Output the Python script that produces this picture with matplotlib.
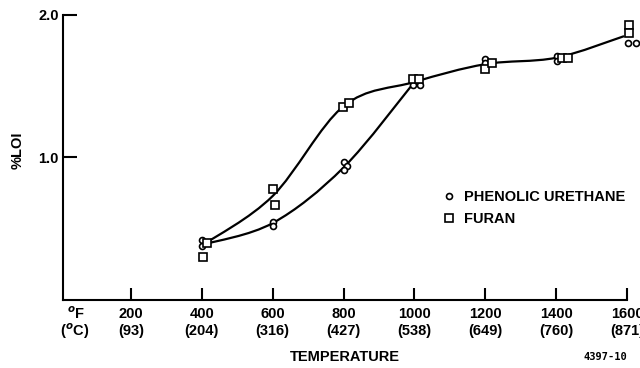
import numpy as np
import matplotlib
matplotlib.use('Agg')
import matplotlib.pyplot as plt
from matplotlib.path import Path
from matplotlib.patches import PathPatch
from matplotlib.lines import Line2D

plt.rcParams['font.family'] = ['Liberation Sans', 'DejaVu Sans']
plt.rcParams['font.weight'] = 'bold'
plt.rcParams['mathtext.fontset'] = 'custom'
plt.rcParams['mathtext.rm'] = 'Liberation Sans:bold'
plt.rcParams['mathtext.bf'] = 'Liberation Sans:bold'

# measured points, temperature in deg F
phen_f = [400, 400, 600, 600, 800, 809, 800, 997, 1016, 1200, 1200, 1402, 1402, 1603, 1625]
phen_loi = [0.42, 0.38, 0.55, 0.52, 0.97, 0.94, 0.91, 1.51, 1.51, 1.69, 1.66, 1.71, 1.68, 1.80, 1.80]
furan_f = [402, 414, 602, 605, 798, 816, 997, 1013, 1200, 1218, 1416, 1434, 1606, 1606]
furan_loi = [0.30, 0.40, 0.78, 0.67, 1.355, 1.38, 1.55, 1.55, 1.62, 1.66, 1.70, 1.70, 1.93, 1.875]

# hand-faired curves through the data
furan_curve_f = [405, 600, 800, 1000, 1200, 1400, 1590]
furan_curve_loi = [0.39, 0.73, 1.36, 1.53, 1.655, 1.70, 1.85]
phen_curve_f = [405, 600, 800, 1000]
phen_curve_loi = [0.39, 0.54, 0.93, 1.53]

tick_f = [200, 400, 600, 800, 1000, 1200, 1400, 1600]
tick_c = [93, 204, 316, 427, 538, 649, 760, 871]


def smooth_path(xs, ys):
    # Catmull-Rom segments written as cubic Bezier pieces
    p = np.column_stack([xs, ys]).astype(float)
    n = len(p)
    verts = [p[0]]
    codes = [Path.MOVETO]
    for i in range(n - 1):
        p0 = p[i - 1] if i > 0 else p[i]
        p3 = p[i + 2] if i + 2 < n else p[i + 1]
        verts += [p[i] + (p[i + 1] - p0) / 6, p[i + 1] - (p3 - p[i]) / 6, p[i + 1]]
        codes += [Path.CURVE4] * 3
    return Path(verts, codes)


fig = plt.figure(figsize=(6.4, 3.68), dpi=100)
ax = fig.add_axes([63 / 640, 1 - 300 / 368, 564 / 640, 285 / 368])
ax.set_xlim(8, 1600)
ax.set_ylim(0, 2.0)

for xs, ys in [(furan_curve_f, furan_curve_loi), (phen_curve_f, phen_curve_loi)]:
    ax.add_patch(PathPatch(smooth_path(xs, ys), fill=False, lw=1.6,
                           edgecolor='black', capstyle='round', zorder=2))

ax.plot(phen_f, phen_loi, 'o', ms=4.3, mfc='white', mec='black', mew=1.2,
        clip_on=False, zorder=3)
ax.plot(furan_f, furan_loi, 's', ms=5.3, mfc='white', mec='black', mew=1.2,
        clip_on=False, zorder=3)

for s in ['top', 'right']:
    ax.spines[s].set_visible(False)
for s in ['left', 'bottom']:
    ax.spines[s].set_linewidth(1.5)

ax.set_yticks([1.0, 2.0], ['1.0', '2.0'])
ax.tick_params(axis='y', direction='in', length=10, width=1.5, pad=3,
               labelsize=10.5)
ax.set_xticks(tick_f, [f'{f}\n({c})' for f, c in zip(tick_f, tick_c)])
ax.tick_params(axis='x', direction='in', length=9, width=1.5, pad=5,
               labelsize=10.5)
for lbl in ax.get_xticklabels():
    lbl.set_linespacing(1.32)

# unit captions at the left end of the temperature scale
fig.text(76 / 640, 1 - 314 / 368, '$^{o}$F', ha='center', va='center',
         fontsize=10.5, fontweight='bold')
fig.text(75 / 640, 1 - 331 / 368, '($^{o}$C)', ha='center', va='center',
         fontsize=10.5, fontweight='bold')

fig.text(18 / 640, 1 - 150 / 368, '%LOI', rotation=90, ha='center', va='center',
         fontsize=10.5, fontweight='bold')
fig.text(345 / 640, 1 - 357 / 368, 'TEMPERATURE', ha='center', va='center',
         fontsize=10.5, fontweight='bold')
fig.text(583 / 640, 1 - 357 / 368, '4397-10', ha='left', va='center',
         fontsize=7.5, family='DejaVu Sans Mono', fontweight='bold')

handles = [Line2D([], [], ls='none', marker='o', ms=4.3, mfc='white', mec='black', mew=1.2),
           Line2D([], [], ls='none', marker='s', ms=5.3, mfc='white', mec='black', mew=1.2)]
leg = ax.legend(handles, ['PHENOLIC URETHANE', 'FURAN'], loc='upper left',
                frameon=False, prop={'size': 10.5, 'weight': 'bold'},
                handlelength=0.8, handletextpad=0.6, labelspacing=0.55,
                borderpad=0)
leg.set_bbox_to_anchor((436 / 640, 1 - 183 / 368), transform=fig.transFigure)

fig.savefig('out.png', dpi=100)
